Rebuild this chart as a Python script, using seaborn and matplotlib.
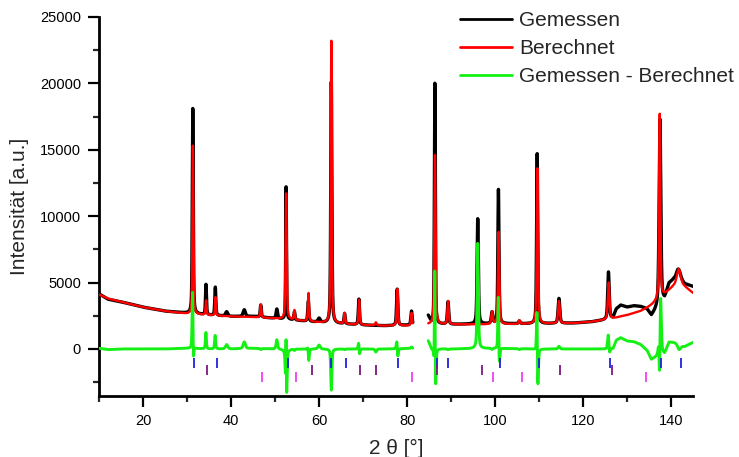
import numpy as np
import pandas as pd
import matplotlib
matplotlib.use("Agg")
import matplotlib.pyplot as plt
import seaborn as sns
from matplotlib.ticker import MultipleLocator

# ---- background levels (2θ in degrees -> intensity) ----
bg_two_theta = [10, 12, 15, 20, 25, 30, 35, 40, 45, 50,
                55, 60, 65, 70, 75, 81.3, 84.8, 85.6, 90, 100,
                110, 118, 122, 125, 126.8, 127.5, 128.5, 130, 131.5, 133,
                134.5, 135.5, 136.5, 137.8, 138.5, 139.5, 140.5, 142, 143, 145]
bg_calc = [4100, 3800, 3550, 3150, 2850, 2650, 2550, 2450, 2400, 2300,
           2150, 2000, 1900, 1800, 1750, 1750, 1850, 1850, 1850, 1850,
           1900, 1950, 2050, 2200, 2300, 2350, 2450, 2550, 2700, 2850,
           3100, 3300, 3550, 3900, 4100, 4400, 4700, 4900, 4700, 4200]
bg_meas = [4150, 3750, 3550, 3150, 2850, 2700, 2550, 2450, 2450, 2300,
           2150, 2000, 1900, 1800, 1750, 1800, 2500, 1900, 1850, 1900,
           1900, 1950, 2050, 2200, 2350, 3000, 3300, 3150, 3250, 3200,
           3000, 2500, 2900, 3500, 3700, 4900, 5200, 5300, 4900, 4700]

# ---- reflections: position, peak top, half width ----
calc_pos = [31.33, 34.32, 36.46, 46.75, 52.52, 54.4, 57.6, 62.78, 65.8, 69.1,
            72.9, 77.8, 81.0, 86.33, 89.3, 99.3, 100.8, 105.5, 109.6, 114.5,
            125.8, 137.4, 141.7]
calc_top = [15300, 3650, 3900, 3350, 11700, 2900, 4200, 23200, 2700, 3700,
            2000, 4500, 2700, 14600, 3600, 2800, 8800, 2150, 13600, 3600,
            5000, 17700, 6000]
calc_hw = [0.13, 0.13, 0.12, 0.15, 0.16, 0.15, 0.15, 0.15, 0.15, 0.16,
           0.2, 0.17, 0.17, 0.17, 0.18, 0.2, 0.18, 0.2, 0.17, 0.22,
           0.22, 0.17, 0.5]

meas_pos = [31.30, 34.30, 36.42, 39.0, 43.0, 46.75, 50.4, 52.5, 54.4, 57.55,
            60.0, 62.78, 65.8, 69.05, 77.75, 81.0, 86.3, 89.3, 96.05, 99.3,
            100.75, 105.5, 109.55, 114.5, 125.75, 137.45, 141.6]
meas_top = [18100, 4850, 4650, 2800, 2950, 3300, 3000, 12200, 2800, 3600,
            2300, 20100, 2650, 3750, 4500, 2850, 20000, 3550, 9800, 2750,
            12000, 2100, 14700, 3800, 5800, 17300, 6000]
meas_hw = [0.13, 0.13, 0.14, 0.3, 0.3, 0.15, 0.2, 0.10, 0.15, 0.15,
           0.3, 0.15, 0.15, 0.16, 0.17, 0.17, 0.12, 0.18, 0.17, 0.2,
           0.15, 0.2, 0.15, 0.22, 0.2, 0.22, 0.5]

# Bragg positions of the three phases
phase1_pos = [31.6, 36.8, 52.9, 62.8, 66.2, 78.0, 86.8, 89.4, 101.0, 110.0,
              126.1, 137.7, 142.2]
phase2_pos = [34.5, 58.3, 69.4, 73.0, 86.9, 97.1, 114.8, 126.6]
phase3_pos = [47.0, 54.7, 81.2, 99.6, 106.0, 134.3]

# detector gap without data
gap_start, gap_end = 81.3, 84.8
x_range = (10, 145)


def pattern(tt, bg, pos, top, hw):
    base = np.interp(tt, bg_two_theta, bg)
    y = base.copy()
    for p, t, w in zip(pos, top, hw):
        amp = t - np.interp(p, bg_two_theta, bg)
        u = (tt - p) / w
        y += amp * (0.5 / (1 + u ** 2) + 0.5 * np.exp(-np.log(2) * u ** 2))
    return y


tt = np.arange(x_range[0], x_range[1] + 0.005, 0.01)
measured = pattern(tt, bg_meas, meas_pos, meas_top, meas_hw)
calculated = pattern(tt, bg_calc, calc_pos, calc_top, calc_hw)
difference = measured - calculated

segment = np.where(tt <= gap_start, 0, 1)
keep = (tt <= gap_start) | (tt >= gap_end)
df = pd.DataFrame({"tt": tt, "meas": measured, "calc": calculated,
                   "diff": difference, "seg": segment})[keep]

sns.set_theme(style="ticks")
plt.rcParams["font.family"] = ["Liberation Sans", "DejaVu Sans"]

fig = plt.figure(figsize=(7.39, 4.57), dpi=100)
ax = fig.add_axes([0.134, 0.1335, 0.804, 0.8295])

series = [("meas", "#000000", 2.4, "Gemessen"),
          ("calc", "#ff0000", 1.7, "Berechnet"),
          ("diff", "#14f014", 2.1, "Gemessen - Berechnet")]
for z, (col, color, lw, label) in enumerate(series):
    for s, part in df.groupby("seg"):
        sns.lineplot(data=part, x="tt", y=col, ax=ax, color=color, lw=lw,
                     estimator=None, sort=False, zorder=2 + z,
                     label=label if s == 0 else None)

tick_rows = [(phase1_pos, "#2020e0", -680, -1430),
             (phase2_pos, "#7a1a80", -1200, -1960),
             (phase3_pos, "#ee40ee", -1730, -2480)]
for pos, color, y0, y1 in tick_rows:
    ax.vlines(pos, y1, y0, colors=color, lw=1.3, zorder=6)

ax.set_xlim(*x_range)
ax.set_ylim(-3540, 25000)
ax.xaxis.set_major_locator(MultipleLocator(20))
ax.xaxis.set_minor_locator(MultipleLocator(10))
ax.yaxis.set_major_locator(MultipleLocator(5000))
ax.yaxis.set_minor_locator(MultipleLocator(2500))
ax.tick_params(which="major", direction="out", length=8, width=1.6,
               labelsize=10.5, pad=5, colors="black")
ax.tick_params(which="minor", direction="out", length=4, width=1.6)
for side in ("top", "right"):
    ax.spines[side].set_visible(False)
for side in ("left", "bottom"):
    ax.spines[side].set_linewidth(2.0)
    ax.spines[side].set_color("black")

ax.set_xlabel("2 θ [°]", fontsize=15, labelpad=8)
ax.set_ylabel("Intensität [a.u.]", fontsize=15, labelpad=8)

leg = ax.legend(loc="upper left", bbox_to_anchor=(0.6225, 0.975),
                bbox_transform=fig.transFigure, frameon=False, borderpad=0,
                borderaxespad=0, handlelength=2.5, handletextpad=0.35,
                labelspacing=0.42, fontsize=15)
for handle in leg.get_lines():
    handle.set_linewidth(2.0)

fig.savefig("out.png", dpi=100)
